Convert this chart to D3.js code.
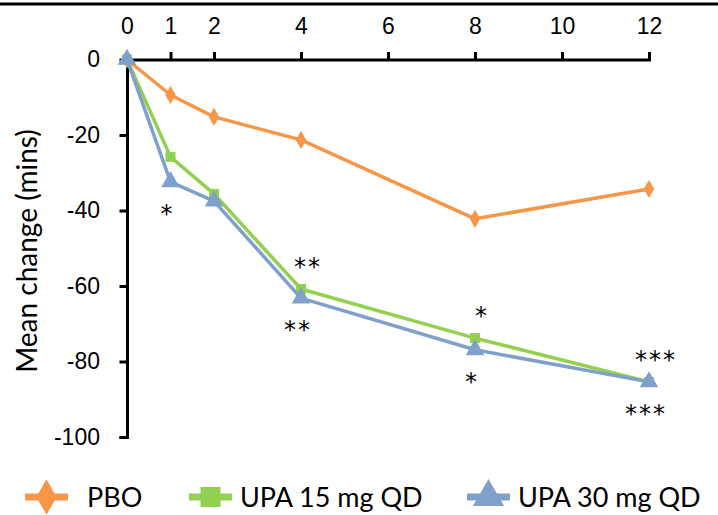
<!DOCTYPE html>
<html>
<head>
<meta charset="utf-8">
<script src="https://cdn.jsdelivr.net/npm/d3@7"></script>
<style>
  html, body { margin: 0; padding: 0; background: #fff; }
  svg { display: block; font-family: Lato, "Open Sans", sans-serif; }
</style>
</head>
<body>
<svg id="chart" width="718" height="515"></svg>
<script>
// Weeks of treatment and mean change from baseline (minutes)
const weeks = [0, 1, 2, 4, 8, 12];
const xTicks = [0, 1, 2, 4, 6, 8, 10, 12];
const yTicks = [0, -20, -40, -60, -80, -100];

const seriesNames = ["PBO", "UPA 15 mg QD", "UPA 30 mg QD"];
const pboValues   = [0, -9.4, -15.2, -21.3, -42.2, -34.3];
const upa15Values = [0, -25.8, -35.6, -60.8, -73.8, -85.4];
const upa30Values = [0, -32.4, -37.5, -63.2, -76.9, -85.4];

// Significance marks: week, series index, stars, side of the point
const sigWeeks  = [1, 4, 4, 8, 8, 12, 12];
const sigSeries = [2, 1, 2, 1, 2, 1, 2];
const sigStars  = ["*", "**", "**", "*", "*", "***", "***"];
const sigSide   = ["below", "above", "below", "above", "below", "above", "below"];

const colors  = ["#F79646", "#92D050", "#7FA0CB"];
const symbols = [d3.symbolDiamond, d3.symbolSquare, d3.symbolTriangle];
const values  = [pboValues, upa15Values, upa30Values];

const svg = d3.select("#chart");

// Rule across the top of the figure
svg.append("line")
  .attr("x1", 0).attr("x2", 718).attr("y1", 4).attr("y2", 4)
  .attr("stroke", "#000").attr("stroke-width", 3);

const x = d3.scaleLinear().domain([0, 12]).range([127, 649]);
const y = d3.scaleLinear().domain([0, -100]).range([59.5, 437]);
const plain = d => String(d);

// Horizontal axis sits at zero, labels above
const xAxis = svg.append("g")
  .attr("transform", `translate(0,${y(0)})`)
  .call(d3.axisTop(x).tickValues(xTicks).tickSize(6).tickSizeOuter(6).tickPadding(20).tickFormat(plain));
xAxis.selectAll(".tick line").attr("stroke-width", 3).filter(d => d === 0).remove();
xAxis.select(".domain").attr("stroke-width", 3);
xAxis.selectAll("text").attr("font-size", 23).attr("fill", "#000");

const yAxis = svg.append("g")
  .attr("transform", `translate(${x(0)},0)`)
  .call(d3.axisLeft(y).tickValues(yTicks).tickSize(6).tickSizeOuter(6).tickPadding(21).tickFormat(plain));
yAxis.selectAll(".tick line").attr("stroke-width", 3).filter(d => d === 0).remove();
yAxis.select(".domain").attr("stroke-width", 3);
yAxis.selectAll("text").attr("font-size", 23).attr("fill", "#000");
xAxis.selectAll(".domain, .tick line").attr("stroke-linecap", "square");
yAxis.selectAll(".domain, .tick line").attr("stroke-linecap", "square");

svg.append("text")
  .attr("transform", `translate(37,251) rotate(-90)`)
  .attr("text-anchor", "middle")
  .attr("font-size", 28)
  .attr("fill", "#000")
  .text("Mean change (mins)");

// Lines and markers
const line = d3.line().x((d, i) => x(weeks[i])).y(d => y(d));
const markerSize = [95, 100, 150];

values.forEach((vals, s) => {
  const g = svg.append("g");
  g.append("path")
    .datum(vals)
    .attr("d", line)
    .attr("fill", "none")
    .attr("stroke", colors[s])
    .attr("stroke-width", 3.5)
    .attr("stroke-linejoin", "round");
  g.selectAll("path.pt")
    .data(vals)
    .join("path")
    .attr("class", "pt")
    .attr("transform", (d, i) => `translate(${x(weeks[i])},${y(d)})`)
    .attr("d", d3.symbol().type(symbols[s]).size(markerSize[s]))
    .attr("fill", colors[s]);
});

// Significance asterisks
sigWeeks.forEach((w, k) => {
  const v = values[sigSeries[k]][weeks.indexOf(w)];
  const above = sigSide[k] === "above";
  svg.append("text")
    .attr("x", x(w) + (above ? 7 : -3))
    .attr("y", y(v) + (above ? -14 : 40))
    .attr("text-anchor", "middle")
    .attr("font-family", "'DejaVu Sans', sans-serif")
    .attr("font-size", 24)
    .attr("letter-spacing", 2)
    .attr("fill", "#000")
    .text(sigStars[k]);
});

// Legend
const legendX = [25, 189, 467];
const legend = svg.append("g").attr("transform", "translate(0,497)");
seriesNames.forEach((name, s) => {
  const g = legend.append("g").attr("transform", `translate(${legendX[s]},0)`);
  g.append("line")
    .attr("x1", 0).attr("x2", 43)
    .attr("stroke", colors[s]).attr("stroke-width", 7);
  g.append("path")
    .attr("transform", "translate(21.5,0)")
    .attr("d", d3.symbol().type(symbols[s]).size([360, 400, 420][s]))
    .attr("fill", colors[s]);
  g.append("text")
    .attr("x", s === 0 ? 62 : 51)
    .attr("y", 0)
    .attr("dy", "0.36em")
    .attr("font-size", 27)
    .attr("fill", "#000")
    .text(name);
});
</script>
</body>
</html>
